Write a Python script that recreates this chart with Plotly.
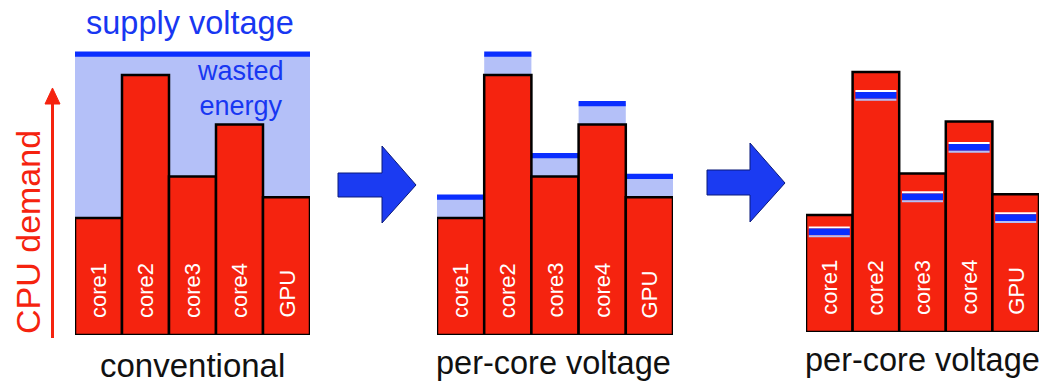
import plotly.graph_objects as go

# ---------------- data ----------------
categories = ["core1", "core2", "core3", "core4", "GPU"]
cpu_demand = [45, 100, 61, 81, 53]          # bar heights (same in every panel)
supply_voltage = 108                        # single shared supply (panel 1)
per_core_voltage = [53, 108, 69, 89, 61]    # panel 2 per-core voltage
reduced_voltage = [38.5, 91, 52, 71, 44]    # panel 3 lines inside the bars
panel_titles = ["conventional", "per-core voltage", "per-core voltage"]

# ---------------- style ----------------
W, H = 1041, 385
RED = "#f5230f"
LIGHT_BLUE = "#b4c0f8"
BLUE = "#0a2eff"
TEXT_BLUE = "#1837f2"
ARROW_BLUE = "#1b3bf2"
FONT = "Liberation Sans, Arial, sans-serif"

def px(x):
    return x / W

def py(y):
    return 1 - y / H

# panel geometry (pixels)
panels = [
    dict(x0=75, x1=310, bottom=335),
    dict(x0=437, x1=673, bottom=335),
    dict(x0=806, x1=1039, bottom=332),
]
Y_RANGE = [0, 120]
PX_PER_UNIT = 2.6

fig = go.Figure()
layout = dict(
    width=W, height=H, margin=dict(l=0, r=0, t=0, b=0),
    paper_bgcolor="white", plot_bgcolor="rgba(0,0,0,0)",
    barmode="overlay", showlegend=False,
    font=dict(family=FONT),
)
for i, p in enumerate(panels):
    sfx = "" if i == 0 else str(i + 1)
    top = p["bottom"] - (Y_RANGE[1] - Y_RANGE[0]) * PX_PER_UNIT
    layout["xaxis" + sfx] = dict(domain=[px(p["x0"]), px(p["x1"])], range=[-0.5, 4.5],
                                 visible=False, anchor="y" + sfx, fixedrange=True)
    layout["yaxis" + sfx] = dict(domain=[py(p["bottom"]), py(top)], range=Y_RANGE,
                                 visible=False, anchor="x" + sfx, fixedrange=True)
fig.update_layout(**layout)

def ax(i):
    return ("x" if i == 0 else "x%d" % (i + 1)), ("y" if i == 0 else "y%d" % (i + 1))

LINE_T = 2.0  # voltage line thickness (data units)

# panel 1: wasted energy region + supply line
xa, ya = ax(0)
fig.add_trace(go.Bar(x=categories, y=[supply_voltage - d for d in cpu_demand], base=cpu_demand,
                     width=1, marker=dict(color=LIGHT_BLUE, line=dict(width=0)),
                     xaxis=xa, yaxis=ya, hoverinfo="skip"))
fig.add_trace(go.Bar(x=categories, y=[LINE_T] * len(categories),
                     base=[supply_voltage - LINE_T / 2] * len(categories),
                     width=1, marker=dict(color=BLUE, line=dict(width=0)),
                     xaxis=xa, yaxis=ya, hoverinfo="skip"))

# panel 2: per-core margin + lines
xa, ya = ax(1)
fig.add_trace(go.Bar(x=categories, y=[v - d for v, d in zip(per_core_voltage, cpu_demand)],
                     base=cpu_demand, width=1,
                     marker=dict(color=LIGHT_BLUE, line=dict(width=0)),
                     xaxis=xa, yaxis=ya, hoverinfo="skip"))
fig.add_trace(go.Bar(x=categories, y=[LINE_T] * len(categories),
                     base=[v - LINE_T / 2 for v in per_core_voltage],
                     width=1, marker=dict(color=BLUE, line=dict(width=0)),
                     xaxis=xa, yaxis=ya, hoverinfo="skip"))

# red demand bars in all panels
for i in range(3):
    xa, ya = ax(i)
    fig.add_trace(go.Bar(x=categories, y=cpu_demand, width=1,
                         marker=dict(color=RED, line=dict(color="black", width=2.5)),
                         xaxis=xa, yaxis=ya, hoverinfo="skip"))

# panel 3: voltage stripes inside bars
xa, ya = ax(2)
for off, th, col in [(1.3, 0.8, "white"), (-1.3, 2.6, BLUE), (-2.1, 0.8, LIGHT_BLUE)]:
    fig.add_trace(go.Bar(x=categories, y=[th] * len(categories),
                         base=[v + off for v in reduced_voltage], width=0.88,
                         marker=dict(color=col, line=dict(width=0)),
                         xaxis=xa, yaxis=ya, hoverinfo="skip"))

annotations = []
# rotated core labels
for i in range(3):
    xa, ya = ax(i)
    for c in categories:
        annotations.append(dict(x=c, y=0, xref=xa, yref=ya, text=c, textangle=-90,
                                xanchor="center", yanchor="bottom", yshift=15,
                                showarrow=False, font=dict(color="white", size=22, family=FONT)))

# panel titles
title_pos = [(192, 365), (553, 363), (922, 360)]
title_sizes = [33, 32.5, 32.5]
for t, (x, y), s in zip(panel_titles, title_pos, title_sizes):
    annotations.append(dict(x=px(x), y=py(y), xref="paper", yref="paper", text=t,
                            xanchor="center", yanchor="middle", showarrow=False,
                            font=dict(color="#111111", size=s, family=FONT)))

annotations.append(dict(x=px(190), y=py(23), xref="paper", yref="paper", text="supply voltage",
                        xanchor="center", yanchor="middle", showarrow=False,
                        font=dict(color=TEXT_BLUE, size=32.5, family=FONT)))
annotations.append(dict(x=px(240), y=py(89), xref="paper", yref="paper",
                        text="wasted<br>energy",
                        xanchor="center", yanchor="middle", showarrow=False,
                        font=dict(color=TEXT_BLUE, size=27, family=FONT)))
annotations.append(dict(x=px(28), y=py(232), xref="paper", yref="paper", text="CPU demand",
                        textangle=-90, xanchor="center", yanchor="middle", showarrow=False,
                        font=dict(color=RED, size=34, family=FONT)))
fig.update_layout(annotations=annotations)

# decorative shapes: blue arrows and red demand axis arrow
def arrow_path(xl, xb, xt, yb0, yb1, yh0, yh1, ytip):
    pts = [(xl, yb0), (xb, yb0), (xb, yh0), (xt, ytip), (xb, yh1), (xb, yb1), (xl, yb1)]
    d = "M " + " L ".join("%f,%f" % (px(a), py(b)) for a, b in pts) + " Z"
    return d

shapes = [
    dict(type="path", xref="paper", yref="paper",
         path=arrow_path(338, 382, 416, 173, 197, 146, 223, 185),
         fillcolor=ARROW_BLUE, line=dict(color="#0b1a7a", width=1)),
    dict(type="path", xref="paper", yref="paper",
         path=arrow_path(707, 750, 785, 170, 195, 143, 222, 183),
         fillcolor=ARROW_BLUE, line=dict(color="#0b1a7a", width=1)),
    dict(type="line", xref="paper", yref="paper", x0=px(52.5), x1=px(52.5), y0=py(338), y1=py(100),
         line=dict(color=RED, width=3)),
    dict(type="path", xref="paper", yref="paper",
         path="M %f,%f L %f,%f L %f,%f Z" % (px(45), py(104), px(52.5), py(88), px(60), py(104)),
         fillcolor=RED, line=dict(color=RED, width=1)),
]
fig.update_layout(shapes=shapes)

fig.write_html("out.html")
